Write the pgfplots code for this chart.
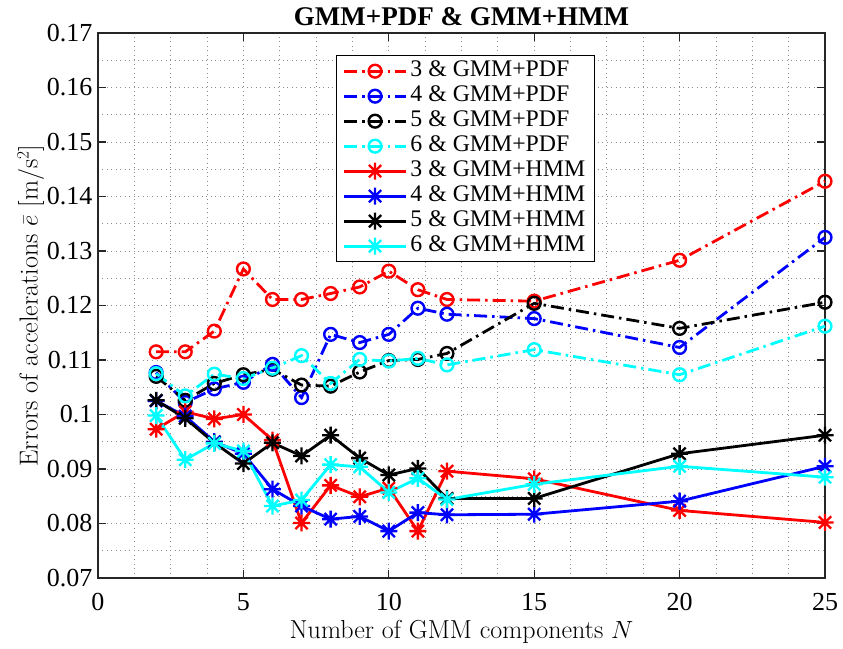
\documentclass[border=0pt]{standalone}
\usepackage{fontspec}
\usepackage{pgfplots}
\pgfplotsset{compat=1.18}
\newfontfamily\timesfont{Liberation Serif}
\definecolor{mcyan}{RGB}{0,255,255}
\definecolor{mred}{RGB}{255,0,0}
\definecolor{mblue}{RGB}{0,0,255}

% eight-armed asterisk (plus and cross combined)
\pgfdeclareplotmark{mstar}{%
  \pgfpathmoveto{\pgfqpoint{0pt}{\pgfplotmarksize}}%
  \pgfpathlineto{\pgfqpoint{0pt}{-\pgfplotmarksize}}%
  \pgfpathmoveto{\pgfqpoint{\pgfplotmarksize}{0pt}}%
  \pgfpathlineto{\pgfqpoint{-\pgfplotmarksize}{0pt}}%
  \pgfpathmoveto{\pgfqpoint{0.72\pgfplotmarksize}{0.72\pgfplotmarksize}}%
  \pgfpathlineto{\pgfqpoint{-0.72\pgfplotmarksize}{-0.72\pgfplotmarksize}}%
  \pgfpathmoveto{\pgfqpoint{0.72\pgfplotmarksize}{-0.72\pgfplotmarksize}}%
  \pgfpathlineto{\pgfqpoint{-0.72\pgfplotmarksize}{0.72\pgfplotmarksize}}%
  \pgfusepathqstroke}

\pgfplotstableread{
N    r      b      k      c
2    0.1115 0.1077 0.1070 0.1075
3    0.1115 0.1022 0.1026 0.1034
4    0.1153 0.1047 0.1057 0.1074
5    0.1267 0.1059 0.1073 0.1066
6    0.1211 0.1092 0.1083 0.1085
7    0.1211 0.1031 0.1054 0.1108
8    0.1222 0.1147 0.1052 0.1057
9    0.1234 0.1132 0.1078 0.1101
10   0.1263 0.1147 0.1099 0.1098
11   0.1229 0.1195 0.1101 0.1103
12   0.1211 0.1184 0.1112 0.1091
15   0.1208 0.1176 0.1204 0.1119
20   0.1283 0.1123 0.1158 0.1073
25   0.1428 0.1325 0.1206 0.1162
}\pdftab

\pgfplotstableread{
N    r      b      k      c
2    0.0973 0.1025 0.1026 0.0998
3    0.1005 0.0997 0.0993 0.0917
4    0.0992 0.0950 0.0948 0.0947
5    0.1000 0.0928 0.0910 0.0933
6    0.0953 0.0863 0.0948 0.0832
7    0.0801 0.0832 0.0924 0.0843
8    0.0870 0.0808 0.0962 0.0908
9    0.0849 0.0813 0.0920 0.0904
10   0.0865 0.0786 0.0889 0.0857
11   0.0786 0.0820 0.0901 0.0883
12   0.0896 0.0816 0.0846 0.0844
15   0.0882 0.0817 0.0846 0.0872
20   0.0824 0.0841 0.0928 0.0905
25   0.0802 0.0905 0.0962 0.0885
}\hmmtab

\begin{document}
\begin{tikzpicture}
\path[use as bounding box] (-98pt,-70pt) rectangle (745pt,578pt);
\begin{axis}[
  at={(0pt,0pt)}, anchor=south west,
  scale only axis, width=727pt, height=545pt,
  xmin=0, xmax=25, ymin=0.07, ymax=0.17,
  clip=false,
  axis line style={line width=1.3pt, draw=black!85},
  xtick={0,5,10,15,20,25},
  xticklabels={0,5,10,15,20,25},
  ytick={0.07,0.08,0.09,0.1,0.11,0.12,0.13,0.14,0.15,0.16,0.17},
  yticklabels={0.07,0.08,0.09,0.1,0.11,0.12,0.13,0.14,0.15,0.16,0.17},
  minor x tick num=3, minor y tick num=1,
  tick align=inside, major tick length=8pt, minor tick length=0pt,
  tick style={line width=1.3pt, black!85},
  grid=both,
  major grid style={draw=black!45, line width=0.9pt, dash pattern=on 1pt off 3.5pt},
  minor grid style={draw=black!45, line width=0.9pt, dash pattern=on 1pt off 3.5pt},
  ticklabel style={font=\timesfont\fontsize{26}{30}\selectfont},
  xticklabel style={yshift=-12pt},
  yticklabel style={xshift=-2pt},
  label style={font=\fontsize{26}{30}\selectfont},
  xlabel={Number of GMM components $N$},
  ylabel={Errors of accelerations $\bar{e}$ [m/s$^2$]},
  xlabel style={yshift=-2pt},
  ylabel style={yshift=-4pt},
  title={GMM+PDF \& GMM+HMM},
  title style={font=\timesfont\bfseries\fontsize{27}{30}\selectfont, yshift=-2pt},
  legend image code/.code={%
    \draw[mark repeat=2, mark phase=2, #1] plot coordinates {(0pt,0pt) (31pt,0pt) (62pt,0pt)};},
  legend style={
    at={(rel axis cs:0.3274,0.9596)}, anchor=north west,
    draw=black, line width=1.3pt, fill=white,
    font=\timesfont\fontsize{23.8}{26}\selectfont,
    inner xsep=6pt, inner ysep=3pt, row sep=0pt,
    nodes={text height=16pt, text depth=5pt, inner ysep=2pt, inner xsep=3pt},
  },
  legend cell align=left,
  pdf/.style={line width=2.8pt, dash pattern=on 13pt off 5pt on 2.5pt off 5pt,
    mark=o, mark size=6.4pt, mark options={solid, line width=2.4pt}},
  hmm/.style={line width=2.8pt, solid,
    mark=mstar, mark size=8.5pt, mark options={solid, line width=2.3pt}},
]
\addplot[pdf, color=mred]   table[x=N, y=r] {\pdftab};
\addplot[pdf, color=mblue]  table[x=N, y=b] {\pdftab};
\addplot[pdf, color=black]  table[x=N, y=k] {\pdftab};
\addplot[pdf, color=mcyan]  table[x=N, y=c] {\pdftab};
\addplot[hmm, color=mred]   table[x=N, y=r] {\hmmtab};
\addplot[hmm, color=mblue]  table[x=N, y=b] {\hmmtab};
\addplot[hmm, color=black]  table[x=N, y=k] {\hmmtab};
\addplot[hmm, color=mcyan]  table[x=N, y=c] {\hmmtab};
\legend{3 \& GMM+PDF, 4 \& GMM+PDF, 5 \& GMM+PDF, 6 \& GMM+PDF,
        3 \& GMM+HMM, 4 \& GMM+HMM, 5 \& GMM+HMM, 6 \& GMM+HMM}
\end{axis}
\end{tikzpicture}
\end{document}
